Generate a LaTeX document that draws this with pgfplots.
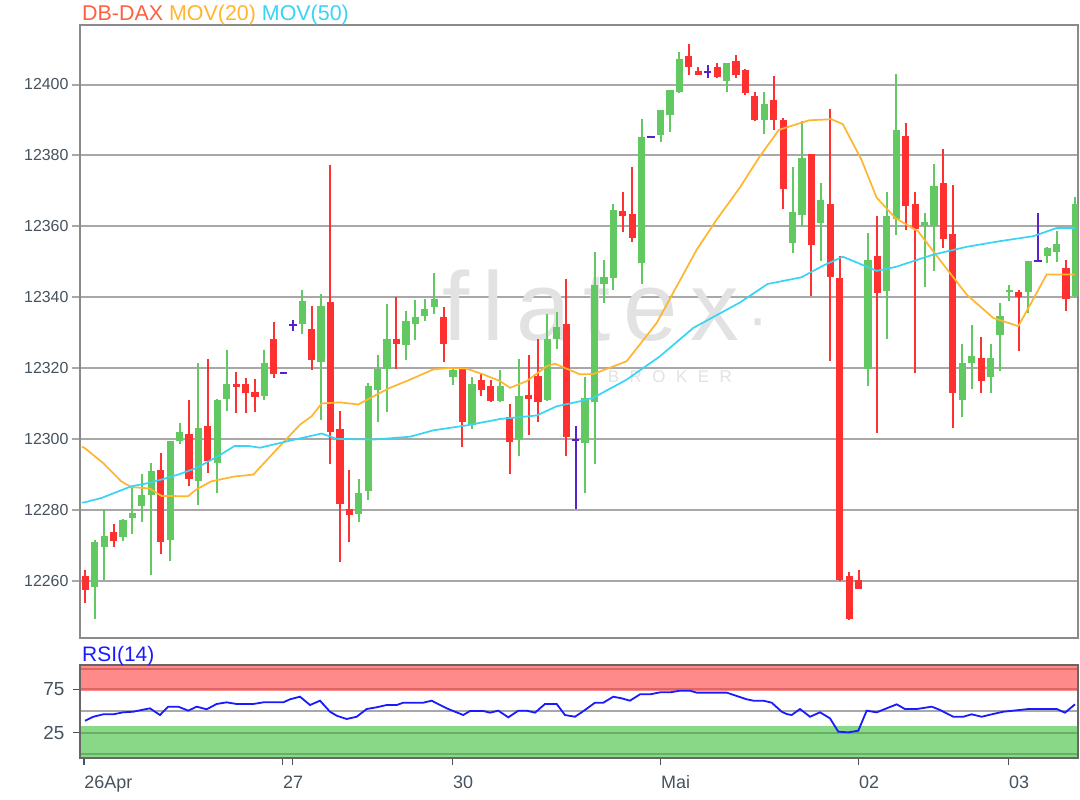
\documentclass[border=0pt]{standalone}
\usepackage{fontspec}
\setmainfont{Liberation Sans}
\usepackage{pgfplots}
\pgfplotsset{compat=1.18}
\usepackage{pgfplotstable}

\definecolor{cgreen}{HTML}{62C862}
\definecolor{cred}{HTML}{FF3030}
\definecolor{cdoji}{HTML}{5522CC}
\definecolor{cm20}{HTML}{FFB52E}
\definecolor{cm50}{HTML}{38D4F5}
\definecolor{ctitle}{HTML}{FF6040}
\definecolor{cgrid}{HTML}{A8A8A8}
\definecolor{cframe}{HTML}{8A8A8A}
\definecolor{clabel}{HTML}{46525E}
\definecolor{crsi}{HTML}{1A1AFF}
\definecolor{cbandr}{HTML}{FF8A8A}
\definecolor{cbandrl}{HTML}{E06666}
\definecolor{cbandg}{HTML}{88D888}
\definecolor{cbandgl}{HTML}{66B066}
\definecolor{cwm}{HTML}{E2E2E2}

\pgfplotstableread{
i o h l c
1 12258.2 12271.5 12249.2 12270.9
2 12269.5 12280.2 12260.1 12272.7
4 12272.3 12277.5 12271.1 12277.2
5 12277.7 12286.0 12273.1 12279.0
6 12281.0 12290.0 12276.6 12284.2
7 12284.2 12293.3 12261.6 12291.0
9 12271.5 12299.5 12265.5 12299.3
10 12299.3 12304.5 12298.5 12301.9
12 12288.1 12321.4 12281.2 12303.1
14 12293.2 12311.3 12284.8 12311.1
15 12311.2 12325.0 12308.0 12315.6
19 12312.1 12325.0 12311.0 12321.5
23 12332.5 12341.9 12329.7 12338.9
25 12321.7 12340.9 12305.2 12337.4
29 12278.9 12288.7 12276.5 12284.8
30 12285.2 12315.7 12282.8 12314.8
31 12313.8 12323.8 12304.7 12319.8
32 12319.8 12338.1 12307.5 12328.2
34 12326.4 12336.2 12322.3 12333.4
35 12332.5 12339.1 12327.8 12334.5
36 12334.8 12339.5 12333.4 12336.7
37 12337.2 12346.8 12335.3 12339.5
39 12317.4 12319.8 12315.1 12319.3
41 12303.8 12317.4 12302.8 12315.4
44 12310.6 12319.3 12310.5 12314.8
46 12299.8 12322.6 12295.3 12312.0
49 12311.0 12335.3 12310.8 12328.2
50 12328.2 12335.8 12325.4 12331.7
53 12298.7 12317.5 12284.6 12311.4
54 12310.4 12352.8 12293.0 12343.4
55 12343.8 12350.4 12338.2 12345.7
56 12345.5 12366.4 12342.1 12364.5
59 12349.5 12390.4 12343.8 12385.2
61 12385.7 12392.9 12383.8 12392.8
62 12391.3 12398.5 12386.6 12398.4
63 12397.9 12409.2 12397.5 12407.3
68 12401.0 12406.2 12397.9 12406.1
72 12390.0 12397.8 12385.9 12394.4
75 12355.3 12376.6 12352.4 12364.0
76 12363.1 12389.8 12359.9 12379.2
78 12360.8 12372.1 12350.3 12367.5
83 12319.8 12358.0 12314.8 12350.6
85 12341.8 12369.7 12328.3 12363.0
86 12362.0 12402.9 12357.5 12387.2
89 12360.0 12363.6 12342.9 12361.1
90 12360.0 12377.7 12347.3 12371.5
93 12311.0 12326.9 12306.2 12321.3
94 12321.3 12332.0 12314.1 12323.5
96 12317.5 12326.9 12313.0 12322.9
97 12329.4 12338.2 12319.1 12334.6
98 12341.4 12343.3 12338.9 12342.0
100 12341.4 12350.2 12335.6 12350.1
102 12351.6 12354.1 12349.5 12353.9
103 12352.7 12358.6 12349.9 12355.1
105 12340.3 12368.3 12340.0 12366.4
}\upcandles

\pgfplotstableread{
i o h l c
0 12261.2 12262.9 12253.7 12257.3
3 12273.8 12276.1 12269.5 12271.1
8 12291.3 12296.0 12267.6 12270.9
11 12301.4 12311.0 12286.8 12288.7
13 12303.6 12322.6 12290.5 12293.7
16 12315.6 12318.8 12307.3 12314.7
17 12315.5 12317.2 12307.2 12313.0
18 12313.2 12317.0 12307.5 12311.8
20 12328.2 12332.9 12317.2 12318.4
24 12331.1 12337.4 12319.5 12322.3
26 12338.6 12377.4 12293.0 12301.9
27 12302.8 12308.0 12265.2 12281.7
28 12280.3 12291.1 12270.9 12278.4
33 12328.2 12340.0 12319.8 12326.8
38 12334.5 12337.2 12321.7 12326.8
40 12319.8 12320.0 12297.7 12304.7
42 12316.5 12318.4 12312.2 12313.8
43 12314.8 12316.5 12310.4 12310.8
45 12306.3 12309.9 12290.1 12299.1
47 12312.4 12323.8 12301.2 12311.3
48 12317.6 12328.2 12304.7 12310.4
51 12332.3 12345.2 12295.3 12300.4
57 12364.3 12369.7 12358.4 12362.8
58 12363.4 12376.6 12355.6 12356.8
64 12408.0 12411.4 12402.6 12405.0
65 12403.9 12405.0 12402.6 12402.6
67 12405.0 12406.1 12401.7 12402.2
69 12406.7 12408.3 12401.7 12402.6
70 12404.1 12404.5 12397.0 12397.6
71 12396.7 12397.8 12389.8 12390.0
73 12395.6 12402.3 12387.2 12390.0
74 12390.0 12390.5 12364.9 12370.4
77 12380.3 12380.5 12340.2 12354.8
79 12366.3 12393.0 12321.9 12345.6
80 12345.5 12351.6 12260.0 12260.2
81 12261.4 12262.5 12249.0 12249.2
82 12260.2 12263.0 12257.7 12257.7
84 12351.6 12363.0 12301.7 12341.3
87 12385.5 12389.0 12359.0 12365.6
88 12366.4 12369.6 12318.6 12359.3
91 12372.1 12381.7 12353.9 12356.5
92 12357.9 12371.5 12303.2 12313.0
95 12322.9 12328.8 12313.0 12316.3
99 12341.5 12342.1 12324.8 12340.1
104 12348.3 12350.6 12336.0 12339.5
}\downcandles

\pgfplotstableread{
i o h l c
21 12318.6 12318.6 12318.6 12318.6
22 12332.0 12333.6 12330.4 12332.0
52 12299.8 12303.5 12280.3 12299.8
60 12385.2 12385.2 12385.2 12385.2
66 12403.6 12405.4 12401.8 12403.6
101 12350.3 12363.6 12350.1 12350.3
}\dojis

\pgfplotsset{
  candle/.style 2 args={only marks, mark=*, mark options={opacity=0},
    error bars/.cd, y dir=plus, y explicit, error mark=none,
    error bar style={draw=#1, line width=#2}},
}

\begin{document}
\begin{tikzpicture}[x=1bp,y=1bp]
\useasboundingbox (0,0) rectangle (1080,800);
\fill[white] (0,0) rectangle (1080,800);

% ---------------- main price panel ----------------
\begin{axis}[
  at={(80bp,162bp)}, anchor=south west,
  scale only axis, width=998bp, height=613bp,
  xmin=-0.56, xmax=105.27, ymin=12243.8, ymax=12416.8,
  axis line style={cframe, line width=1.5bp},
  xtick=\empty,
  ytick={12260,12280,12300,12320,12340,12360,12380,12400},
  yticklabels={12260,12280,12300,12320,12340,12360,12380,12400},
  scaled y ticks=false, ytick pos=left,
  ymajorgrids, grid style={cgrid, line width=2bp},
  tick align=outside, major tick length=8bp,
  y tick style={cgrid, line width=2bp},
  yticklabel style={font=\fontsize{16}{16}\selectfont, text=clabel},
  clip=true,
]
% watermark
\node[text=cwm, font=\fontsize{98}{98}\selectfont\addfontfeature{LetterSpace=13}, anchor=center] at (axis cs:53.6,12337.5) {flatex};
\node[text=cwm, font=\fontsize{64}{64}\selectfont, anchor=center] at (axis cs:71.4,12331.0) {\textperiodcentered};
\node[text=cwm, font=\fontsize{17}{17}\selectfont\addfontfeature{LetterSpace=62}, anchor=center] at (axis cs:62.0,12317.5) {BROKER};

% wicks
\addplot[candle={cgreen}{2bp}] table[x=i, y=l, y error expr=\thisrow{h}-\thisrow{l}] {\upcandles};
\addplot[candle={cred}{2bp}] table[x=i, y=l, y error expr=\thisrow{h}-\thisrow{l}] {\downcandles};
\addplot[candle={cdoji}{2bp}] table[x=i, y=l, y error expr=\thisrow{h}-\thisrow{l}] {\dojis};
% bodies
\addplot[candle={cgreen}{7.2bp}] table[x=i, y=o, y error expr=\thisrow{c}-\thisrow{o}] {\upcandles};
\addplot[candle={cred}{7.2bp}] table[x=i, y=c, y error expr=\thisrow{o}-\thisrow{c}] {\downcandles};
\addplot[only marks, mark=-, mark size=3.8bp, mark options={draw=cdoji, line width=2bp}]
  table[x=i, y=o] {\dojis};

% MOV(20)
\addplot[cm20, line width=1.7bp] coordinates {
(-0.35,12297.8) (-0.06,12297.4) (1.88,12293.2) (3.82,12288.0) (4.88,12286.4)
(6.83,12286.0) (8.06,12283.9) (10.89,12283.8) (11.77,12285.7) (13.36,12288.0)
(15.84,12289.4) (17.82,12289.9) (19.94,12296.0) (22.77,12304.0) (24.01,12306.4)
(25.07,12310.0) (27.01,12310.3) (28.95,12309.7) (30.90,12312.5) (32.31,12314.4)
(34.43,12316.7) (36.90,12319.6) (38.67,12320.0) (40.44,12319.8) (42.21,12318.2)
(43.98,12316.3) (45.04,12314.4) (46.81,12316.3) (48.93,12320.5) (49.81,12321.2)
(52.46,12318.2) (53.87,12318.3) (57.41,12321.9) (60.59,12332.7) (64.84,12353.4)
(66.96,12361.9) (69.43,12371.0) (71.55,12379.8) (73.55,12387.2) (76.74,12389.9)
(79.13,12390.2) (80.33,12388.8) (82.32,12378.7) (83.91,12368.1) (85.91,12362.3)
(88.30,12358.6) (90.99,12349.2) (93.47,12340.7) (96.29,12334.1) (98.94,12331.8)
(100.0,12336.9) (101.95,12346.4) (104.95,12346.4)
};
% MOV(50)
\addplot[cm50, line width=1.7bp] coordinates {
(-0.35,12282.0) (-0.06,12282.1) (1.70,12283.3) (4.88,12286.6) (6.65,12287.5)
(8.06,12288.5) (9.83,12289.9) (11.81,12291.8) (14.07,12295.1) (15.84,12298.0)
(17.25,12298.0) (18.53,12297.5) (21.71,12299.5) (25.07,12301.5) (26.66,12300.0)
(30.54,12299.8) (34.43,12300.6) (36.90,12302.4) (40.44,12303.8) (43.98,12305.6)
(47.87,12306.6) (49.99,12309.2) (52.46,12310.6) (53.87,12311.6) (57.41,12316.7)
(60.94,12323.3) (64.47,12331.3) (69.43,12338.5) (72.35,12343.7) (75.94,12345.6)
(78.33,12349.0) (80.33,12351.4) (81.52,12350.1) (83.91,12347.4) (85.91,12348.5)
(89.93,12352.0) (93.47,12354.2) (97.00,12355.8) (100.53,12357.2) (103.01,12359.5)
(104.95,12359.5)
};
\end{axis}

% ---------------- RSI panel ----------------
\begin{axis}[
  at={(80bp,42bp)}, anchor=south west,
  scale only axis, width=998bp, height=93bp,
  xmin=-0.56, xmax=105.27, ymin=-4.1, ymax=103,
  axis line style={draw=black!60, line width=1.5bp},
  axis on top,
  ytick={25,75}, yticklabels={25,75},
  xtick={-0.14,20.93,22.0,38.96,61.02,82.01,97.92},
  xticklabels={26Apr,27,,30,Mai,02,03},
  xtick pos=lower, ytick pos=left,
  tick align=outside, major tick length=7bp,
  tick style={clabel, line width=1.5bp},
  yticklabel style={font=\fontsize{19}{19}\selectfont, text=clabel, xshift=-5bp},
  xticklabel style={font=\fontsize{18}{18}\selectfont, text=clabel, anchor=north west, xshift=-3bp, yshift=-7bp},
  clip=true,
]
\fill[cbandr] (axis cs:-1,73.4) rectangle (axis cs:106,103);
\draw[cbandrl, line width=2bp] (axis cs:-1,75) -- (axis cs:106,75);
\draw[cbandrl, line width=2bp] (axis cs:-1,98.5) -- (axis cs:106,98.5);
\fill[cbandg] (axis cs:-1,-4.1) rectangle (axis cs:106,32.7);
\draw[cbandgl, line width=2bp] (axis cs:-1,25) -- (axis cs:106,25);
\draw[cbandgl, line width=2bp] (axis cs:-1,0.5) -- (axis cs:106,0.5);
\draw[cgrid, line width=2bp] (axis cs:-1,50) -- (axis cs:106,50);
\addplot[crsi, line width=1.8bp] coordinates {
(-0.03,38.8) (0.85,43.4) (1.91,46.2) (2.97,46.2) (4.03,48.5) (5.09,49.2)
(5.98,51.2) (6.86,53.1) (7.92,45.4) (8.80,55.0) (9.86,55.0) (10.92,50.4)
(11.81,55.0) (12.87,52.0) (13.93,58.1) (14.99,60.0) (16.05,58.1) (17.82,58.1)
(18.88,60.0) (21.0,60.0) (21.71,63.5) (22.77,66.5) (23.83,56.9) (24.89,61.9)
(25.95,49.2) (26.66,44.6) (27.72,40.8) (28.78,43.4) (29.84,52.3) (30.90,54.3)
(31.96,56.9) (33.02,56.9) (33.72,59.6) (35.84,59.6) (36.73,61.9) (38.32,53.1)
(40.08,45.4) (40.80,50.0) (42.21,50.0) (42.92,48.1) (43.80,50.4) (44.86,42.7)
(45.92,50.4) (46.81,50.4) (47.69,48.1) (48.75,58.1) (49.99,58.1) (50.87,45.4)
(51.93,43.4) (52.99,51.2) (54.05,59.6) (54.93,59.6) (55.99,66.5) (56.88,64.6)
(57.76,61.9) (58.82,69.2) (59.88,69.2) (60.94,71.5) (62.0,71.5) (63.06,73.4)
(64.12,73.4) (64.83,71.2) (66.24,71.2) (68.02,71.2) (69.08,67.3) (70.14,63.5)
(70.84,61.9) (71.90,61.9) (72.79,59.6) (73.85,49.2) (74.38,46.5) (74.91,45.4)
(75.79,52.3) (76.85,43.4) (77.91,48.5) (78.97,41.6) (79.85,26.2) (80.91,25.4)
(81.97,27.3) (82.86,50.4) (83.92,48.5) (84.98,53.1) (86.04,57.7) (86.92,52.3)
(88.17,52.3) (89.76,55.0) (90.64,51.2) (92.04,43.4) (93.10,43.4) (93.99,46.2)
(95.06,43.4) (96.12,46.2) (97.35,49.2) (98.41,50.4) (100.0,52.3) (101.59,52.3)
(103.01,52.3) (103.89,48.1) (104.95,57.7)
};
\end{axis}

% titles
\node[anchor=base west, inner sep=0, font=\fontsize{21.5}{21.5}\selectfont] at (82,779)
  {\textcolor{ctitle}{DB-DAX} \textcolor{cm20}{MOV(20)} \textcolor{cm50}{MOV(50)}};
\node[anchor=base west, inner sep=0, font=\fontsize{21}{21}\selectfont, text=crsi] at (82,138.5) {RSI(14)};
\end{tikzpicture}
\end{document}
